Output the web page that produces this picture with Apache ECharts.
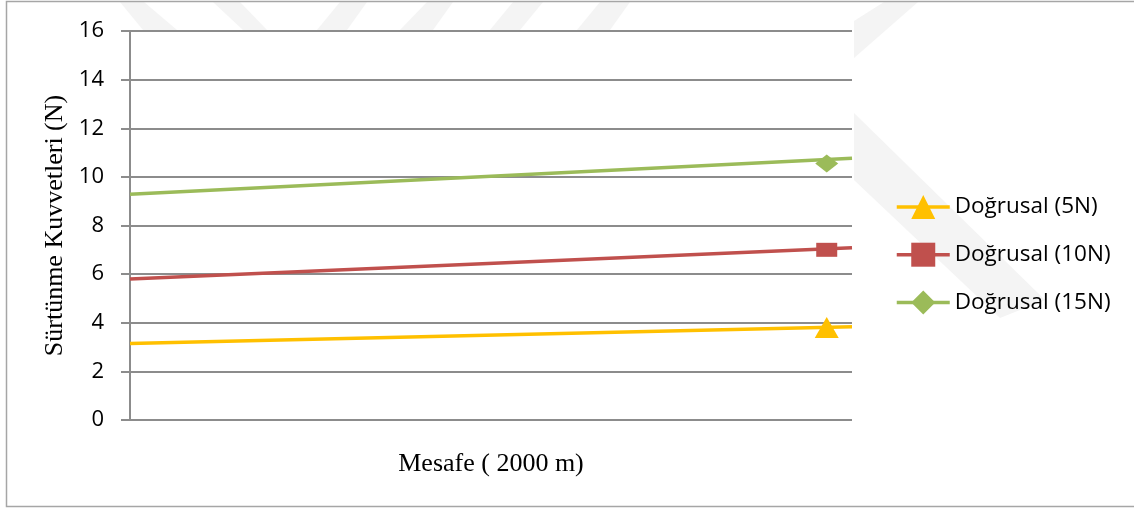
<!DOCTYPE html>
<html>
<head>
<meta charset="utf-8">
<script src="https://cdn.jsdelivr.net/npm/echarts@6/dist/echarts.min.js"></script>
<style>
  html, body { margin: 0; padding: 0; background: #ffffff; }
  #chart { width: 1134px; height: 508px; }
</style>
</head>
<body>
<div id="chart"></div>
<script>
// ---- Data ----
const seriesNames = ['Doğrusal (5N)', 'Doğrusal (10N)', 'Doğrusal (15N)'];
// trendline end points (x = 0 start, x = 1 end of the distance range)
const lineX = [0, 1];
const line5N = [3.15, 3.84];
const line10N = [5.8, 7.08];
const line15N = [9.29, 10.77];
// measured point (marker) position on the distance axis and values
const markerX = 0.965;
const marker5N = 3.8;
const marker10N = 7.0;
const marker15N = 10.55;
const yTicks = { min: 0, max: 16, interval: 2 };
const xAxisTitle = 'Mesafe ( 2000 m)';
const yAxisTitle = 'Sürtünme Kuvvetleri (N)';

const colors = ['#FFC000', '#C0504D', '#9BBB59'];
const symbols = ['triangle', 'rect', 'diamond'];
const symbolSizes = [[24, 21], [21, 14], [23, 18]];
const lines = [line5N, line10N, line15N];
const markers = [marker5N, marker10N, marker15N];

const series = [];
seriesNames.forEach((name, i) => {
  series.push({
    name: name,
    type: 'line',
    data: lineX.map((x, k) => [x, lines[i][k]]),
    symbol: symbols[i],
    symbolSize: symbolSizes[i],
    showSymbol: false,
    lineStyle: { color: colors[i], width: 3.5 },
    itemStyle: { color: colors[i] },
    z: 3,
    silent: true
  });
});
seriesNames.forEach((name, i) => {
  series.push({
    name: name,
    type: 'scatter',
    data: [[markerX, markers[i]]],
    symbol: symbols[i],
    symbolSize: symbolSizes[i],
    itemStyle: { color: colors[i], opacity: 1 },
    z: 4
  });
});

// faint background watermark shapes (decoration outside the plot area)
const wmColor = '#f4f4f4';
const wm = [
  [[120, 2], [144, 2], [177, 30], [143, 30]],
  [[213, 2], [240, 2], [267, 30], [243, 30]],
  [[340, 2], [367, 2], [347, 30], [317, 30]],
  [[427, 2], [453, 2], [433, 30], [400, 30]],
  [[513, 2], [543, 2], [520, 30], [490, 30]],
  [[600, 2], [630, 2], [610, 30], [577, 30]],
  [[884, 2], [918, 2], [854, 58], [854, 21]],
  [[854, 113], [1045, 300], [1000, 318], [854, 180]]
];
const graphics = wm.map(pts => ({
  type: 'polygon', z: -10, silent: true,
  shape: { points: pts },
  style: { fill: wmColor }
}));
graphics.push({
  type: 'rect', z: 100, silent: true,
  shape: { x: 6.5, y: 1.5, width: 1140, height: 505 },
  style: { fill: null, stroke: '#a6a6a6', lineWidth: 1.5 }
});

const chart = echarts.init(document.getElementById('chart'), null, { renderer: 'canvas' });
chart.setOption({
  animation: false,
  backgroundColor: '#ffffff',
  color: colors,
  graphic: graphics,
  grid: {
    left: 130, right: 282, top: 31, bottom: 88,
    show: true, backgroundColor: '#ffffff', borderWidth: 0, z: 0
  },
  legend: {
    data: seriesNames,
    orient: 'vertical',
    left: 890,
    top: 190,
    itemWidth: 53,
    itemHeight: 30,
    itemGap: 23.7,
    lineStyle: { width: 3.5 },
    textStyle: { fontFamily: 'Open Sans', fontSize: 22.5, color: '#000000', padding: [0, 0, 0, 0] },
    selectedMode: false
  },
  xAxis: {
    type: 'value',
    min: 0, max: 1,
    name: xAxisTitle,
    nameLocation: 'middle',
    nameGap: 31,
    nameTextStyle: { fontFamily: 'Liberation Serif', fontSize: 26, color: '#000000' },
    axisLine: { show: false },
    axisTick: { show: false },
    axisLabel: { show: false },
    splitLine: { show: false }
  },
  yAxis: {
    type: 'value',
    min: yTicks.min, max: yTicks.max, interval: yTicks.interval,
    name: yAxisTitle,
    nameLocation: 'middle',
    nameRotate: 90,
    nameGap: 62,
    nameTextStyle: { fontFamily: 'Liberation Serif', fontSize: 26, color: '#000000' },
    axisLine: { show: true, lineStyle: { color: '#8c8c8c', width: 2 } },
    axisTick: { show: true, length: 9, lineStyle: { color: '#8c8c8c', width: 2 } },
    axisLabel: { margin: 26, fontFamily: 'Open Sans', fontSize: 22, color: '#000000' },
    splitLine: { show: true, lineStyle: { color: '#8c8c8c', width: 2 } }
  },
  series: series
});
</script>
</body>
</html>
